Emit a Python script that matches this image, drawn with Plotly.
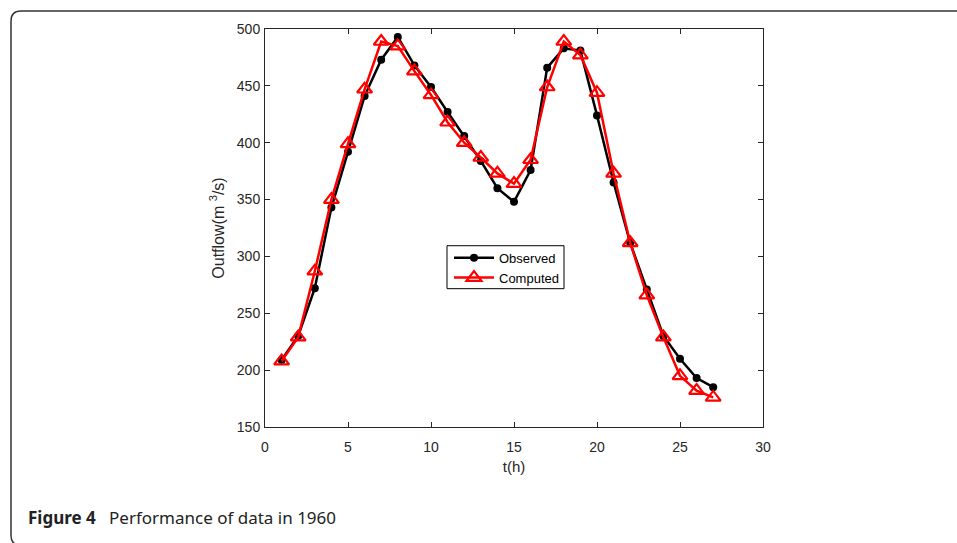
import plotly.graph_objects as go

t_hours = list(range(1, 28))
observed = [209, 230, 272, 343, 392, 441, 473, 493, 468, 449, 427, 406, 384, 360, 348,
            376, 466, 483, 481, 424, 365, 312, 271, 230, 210, 193, 185]
computed = [208, 229, 287, 350, 399, 447, 489, 485, 463, 442, 418, 400, 387, 373, 364,
            385, 449, 489, 477, 444, 373, 312, 266, 229, 195, 182, 176]
x_ticks = [0, 5, 10, 15, 20, 25, 30]
y_ticks = [150, 200, 250, 300, 350, 400, 450, 500]

W, H = 957, 543
L, R, T, B = 265, 763, 29, 427.5
pw, ph = R - L, B - T


def px(xp):
    return (xp - L) / pw


def py(yp):
    return (B - yp) / ph


fig = go.Figure()
fig.add_trace(go.Scatter(
    x=t_hours, y=observed, name="Observed", mode="lines+markers",
    line=dict(color="black", width=2.5),
    marker=dict(symbol="circle", size=8, color="black"),
))
fig.add_trace(go.Scatter(
    x=t_hours, y=computed, name="Computed", mode="lines+markers",
    line=dict(color="#ff0000", width=2.5),
    marker=dict(symbol="triangle-up-open", size=13, color="#ff0000",
                line=dict(width=2.2, color="#ff0000")),
))

FONT = "Liberation Sans, Arial"
axis_common = dict(
    showline=True, linecolor="#262626", linewidth=1, mirror="ticks",
    ticks="inside", ticklen=5, tickcolor="#262626", tickwidth=1,
    showgrid=False, zeroline=False,
    tickfont=dict(family=FONT, size=14, color="#262626"),
)
fig.update_xaxes(range=[0, 30], tickvals=x_ticks, ticklabelstandoff=7, **axis_common,
                 title=dict(text="t(h)", font=dict(family=FONT, size=15, color="#262626"), standoff=7))
fig.update_yaxes(range=[150, 500], tickvals=y_ticks, ticklabelstandoff=1, **axis_common,
                 title=dict(text="Outflow(m <sup>3</sup>/s)", font=dict(family=FONT, size=16, color="#262626"), standoff=8))

# card border with rounded left corners
r = 10
x0p, y0p = 11, 11
x1p, y1p = 965, 546
path = (f"M {px(x1p)} {py(y0p)} L {px(x0p + r)} {py(y0p)} "
        f"Q {px(x0p)} {py(y0p)} {px(x0p)} {py(y0p + r)} "
        f"L {px(x0p)} {py(y1p - r)} Q {px(x0p)} {py(y1p)} {px(x0p + r)} {py(y1p)} "
        f"L {px(x1p)} {py(y1p)}")
fig.add_shape(type="path", path=path, xref="paper", yref="paper",
              line=dict(color="#333333", width=1.5), layer="below")

# legend frame
fig.add_shape(type="rect", xref="paper", yref="paper",
              x0=px(447), x1=px(564), y0=py(289), y1=py(246),
              line=dict(color="black", width=1), fillcolor="white", layer="above")

fig.add_annotation(
    x=px(26), y=py(518.5), xref="paper", yref="paper", xanchor="left", yanchor="middle",
    text="<b>Figure 4</b> &nbsp;&nbsp;Performance of data in 1960", showarrow=False,
    font=dict(family="Noto Sans", size=17, color="#222222"),
)

fig.update_layout(
    width=W, height=H,
    margin=dict(l=L, r=W - R, t=T, b=H - B),
    plot_bgcolor="white", paper_bgcolor="white",
    showlegend=True,
    legend=dict(x=px(449), y=py(243), xanchor="left", yanchor="top",
                borderwidth=0, bgcolor="rgba(0,0,0,0)",
                font=dict(family=FONT, size=13, color="black"),
                tracegroupgap=0, itemwidth=40),
)

fig.write_html("out.html", config={"displayModeBar": False},
               post_script="document.body.style.margin='0';")
